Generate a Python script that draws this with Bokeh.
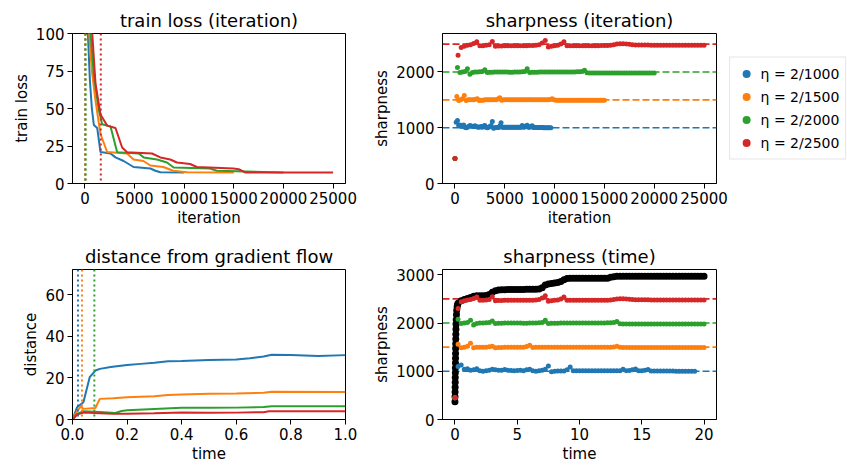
import numpy as np
from bokeh.plotting import figure
from bokeh.models import Span, Range1d, FixedTicker, Legend, LegendItem, NumeralTickFormatter
from bokeh.layouts import column, row
from bokeh.embed import file_html
from bokeh.resources import INLINE

# ---------------- data ----------------
colors = ["#1f77b4", "#ff7f0e", "#2ca02c", "#d62728"]
labels = ["η = 2/1000", "η = 2/1500", "η = 2/2000", "η = 2/2500"]
lrs = [2 / 1000, 2 / 1500, 2 / 2000, 2 / 2500]
eos_iters = [10, 26, 80, 1600]  # dotted vertical markers (iteration)

# train loss vs iteration
loss_iters = [
    [0, 300, 500, 700, 900, 1240, 1570, 2580, 3080, 3900, 4400, 4900, 6600, 7100, 7600, 10000],
    [0, 430, 700, 1070, 1570, 2240, 4250, 4900, 5900, 6600, 7900, 8900, 10300, 15000],
    [0, 570, 900, 1400, 1740, 2580, 3250, 5420, 5920, 7260, 8270, 8940, 12600, 13300, 20000],
    [0, 740, 1070, 1570, 2240, 3080, 3750, 4250, 6760, 7600, 8600, 9270, 10600, 11280, 14960, 15500, 16130, 25000],
]
loss_vals = [
    [300, 100, 69, 50, 39, 37, 21, 20, 17.4, 15, 13, 11, 10, 8.5, 7.5, 7.3],
    [300, 100, 75, 55, 33, 21, 20, 16, 15, 12, 11, 8.5, 7.5, 7.3],
    [300, 100, 72, 49, 39.5, 38, 20.8, 20, 17.4, 16, 14, 10.7, 10, 8.5, 7.3],
    [300, 100, 66.5, 46, 38.6, 37, 24, 20.8, 20, 17.4, 16, 14, 13, 11, 10, 9.5, 7.4, 7.3],
]

# distance from gradient flow vs time
dist_times = [
    [0, 0.017, 0.04, 0.063, 0.084, 0.1, 0.14, 0.2, 0.25, 0.3, 0.35, 0.4, 0.5, 0.6, 0.65, 0.7, 0.73, 0.8, 0.9, 1.0],
    [0, 0.017, 0.03, 0.04, 0.084, 0.1, 0.15, 0.2, 0.3, 0.35, 0.4, 0.5, 0.6, 0.7, 0.73, 1.0],
    [0, 0.017, 0.04, 0.1, 0.157, 0.18, 0.2, 0.3, 0.4, 0.5, 0.6, 0.7, 0.73, 1.0],
    [0, 0.017, 0.04, 0.1, 0.15, 0.2, 0.3, 0.4, 0.5, 0.6, 0.7, 0.72, 1.0],
]
dist_vals = [
    [0, 5.9, 8.3, 20.3, 23.5, 24.3, 25.2, 26.2, 26.7, 27.2, 28.0, 28.1, 28.6, 28.8, 29.4, 30.2, 31.1, 31.0, 30.5, 30.9],
    [0, 4.0, 6.2, 5.1, 5.5, 9.9, 10.2, 10.7, 11.2, 11.8, 12.0, 12.4, 12.5, 12.8, 13.3, 13.2],
    [0, 2.7, 4.0, 3.6, 3.1, 4.1, 4.4, 5.0, 5.6, 5.6, 5.7, 6.0, 6.4, 6.4],
    [0, 2.4, 3.3, 3.0, 2.7, 2.8, 3.0, 3.4, 3.2, 3.3, 3.5, 4.0, 4.0],
]

# sharpness sampled every 0.25 units of time (time = iteration * eta)
sharp_time_step = 0.25
blue_sharp = [
    450, 1100, 1130, 1040, 1050, 1020, 1030, 1050, 1010, 1000,
    1010, 1020, 1040, 1030, 1020, 1020, 1035, 1020, 1015, 1010,
    1015, 1020, 1010, 1030, 1040, 1010, 1000, 1010, 1020, 1040,
    1110, 990, 1000, 1005, 1005, 1005, 1030, 1090, 1010, 1010,
    1010, 1010, 1010, 1010, 1010, 1010, 1010, 1010, 1010, 1010,
    1010, 1010, 1010, 1010, 1040, 1010, 1015, 1030, 1045, 1010,
    1010, 1020, 1035, 1005, 1005, 1005, 1005, 1005, 1005, 1005,
    1005, 1000, 1000, 1000, 1000, 1000, 1000, 1000,
]
orange_sharp = [
    450, 1560, 1490, 1500, 1520, 1580, 1490, 1500, 1500, 1500,
    1500, 1510, 1520, 1490, 1495, 1495, 1500, 1500, 1500, 1500,
    1500, 1500, 1500, 1515, 1540, 1495, 1500, 1500, 1500, 1500,
    1500, 1500, 1500, 1500, 1500, 1500, 1500, 1500, 1500, 1500,
    1500, 1500, 1500, 1500, 1500, 1500, 1500, 1500, 1500, 1500,
    1500, 1505, 1520, 1500, 1495, 1495, 1495, 1495, 1495, 1495,
    1495, 1495, 1495, 1495, 1495, 1495, 1495, 1495, 1495, 1495,
    1495, 1495, 1495, 1495, 1495, 1495, 1495, 1495, 1495, 1495,
    1495,
]
green_sharp = [
    450, 2080, 1990, 2000, 2010, 2060, 1960, 1990, 2000, 2000,
    2005, 2010, 2040, 1990, 1995, 1995, 2000, 2000, 2000, 2000,
    2000, 2000, 1995, 1995, 2000, 2000, 2000, 2005, 2010, 2060,
    1990, 1995, 1995, 1995, 2000, 2000, 2000, 2000, 2000, 2000,
    2000, 2000, 2000, 2000, 2000, 2000, 2000, 2000, 2000, 2005,
    2005, 2010, 2030, 1985, 1980, 1980, 1980, 1980, 1980, 1980,
    1980, 1980, 1980, 1980, 1980, 1980, 1980, 1980, 1980, 1980,
    1980, 1980, 1980, 1980, 1980, 1980, 1980, 1980, 1980, 1980,
    1980,
]
red_sharp = [
    450, 2300, 2440, 2460, 2480, 2490, 2510, 2540, 2470, 2470,
    2480, 2490, 2545, 2460, 2465, 2465, 2470, 2470, 2470, 2470,
    2470, 2470, 2470, 2470, 2475, 2475, 2480, 2490, 2520, 2565,
    2450, 2460, 2470, 2480, 2500, 2540, 2470, 2470, 2470, 2470,
    2470, 2470, 2470, 2470, 2470, 2470, 2470, 2475, 2475, 2475,
    2480, 2490, 2500, 2505, 2505, 2500, 2495, 2490, 2485, 2485,
    2485, 2485, 2485, 2480, 2480, 2480, 2480, 2480, 2480, 2480,
    2480, 2480, 2480, 2480, 2480, 2480, 2480, 2480, 2480, 2480,
    2480,
]
sharp_vals = [blue_sharp, orange_sharp, green_sharp, red_sharp]

# gradient-flow sharpness (black): fine early samples + 0.25 time grid
gf_time_early = [0.005, 0.01, 0.015, 0.02, 0.025, 0.03, 0.035, 0.04, 0.045, 0.05, 0.055,
                 0.06, 0.065, 0.07, 0.08, 0.09, 0.1, 0.12, 0.14, 0.17, 0.2]
gf_sharp_early = [470, 570, 670, 770, 870, 970, 1070, 1170, 1270, 1370, 1470,
                  1570, 1670, 1770, 1870, 1970, 2070, 2170, 2260, 2330, 2380]
gf_sharp = [
    370, 2410, 2460, 2490, 2510, 2530, 2555, 2565, 2565, 2565,
    2570, 2590, 2640, 2670, 2685, 2690, 2690, 2695, 2695, 2695,
    2695, 2695, 2695, 2700, 2700, 2700, 2700, 2705, 2730, 2790,
    2810, 2820, 2830, 2840, 2860, 2900, 2925, 2930, 2930, 2930,
    2930, 2930, 2930, 2930, 2930, 2930, 2930, 2930, 2930, 2930,
    2950, 2960, 2970, 2970, 2970, 2970, 2970, 2970, 2970, 2970,
    2970, 2970, 2970, 2970, 2970, 2970, 2970, 2970, 2970, 2970,
    2970, 2970, 2970, 2970, 2970, 2970, 2970, 2970, 2970, 2970,
    2970,
]

FONT = "DejaVu Sans"


def make_fig(width, height, xr, yr, xticks, yticks, title, xlabel, ylabel, mb):
    p = figure(width=width, height=height, x_range=Range1d(*xr), y_range=Range1d(*yr),
               output_backend="svg", toolbar_location=None,
               min_border_left=mb[0], min_border_right=mb[1],
               min_border_top=mb[2], min_border_bottom=mb[3])
    p.title.text = title
    p.title.text_font = FONT
    p.title.text_font_size = "18px"
    p.title.text_font_style = "normal"
    p.title.text_color = "black"
    p.title.align = "center"
    p.title.standoff = 5
    p.grid.visible = False
    p.outline_line_color = "black"
    p.outline_line_alpha = 1
    p.background_fill_color = "white"
    p.border_fill_color = "white"
    for ax, ticks, lab in ((p.xaxis[0], xticks, xlabel), (p.yaxis[0], yticks, ylabel)):
        ax.ticker = FixedTicker(ticks=ticks)
        ax.axis_label = lab
        ax.axis_label_text_font = FONT
        ax.axis_label_text_font_size = "15px"
        ax.axis_label_text_font_style = "normal"
        ax.axis_label_text_color = "black"
        ax.axis_label_standoff = 2
        ax.major_label_text_font = FONT
        ax.major_label_text_font_size = "15px"
        ax.major_label_text_color = "black"
        ax.major_label_standoff = 3
        ax.major_tick_out = 5
        ax.major_tick_in = 0
        ax.minor_tick_out = 0
        ax.minor_tick_in = 0
        ax.axis_line_color = "black"
        ax.major_tick_line_color = "black"
    return p


sharp_limits = [2 / lr for lr in lrs]
sharp_times = [np.arange(len(v)) * sharp_time_step for v in sharp_vals]
sharp_iters = [t / lr for t, lr in zip(sharp_times, lrs)]

# ---------- panel 1: train loss (iteration) ----------
p1 = make_fig(370, 238, (-1250, 26250), (0, 100), [0, 5000, 10000, 15000, 20000, 25000],
              [0, 25, 50, 75, 100], "train loss (iteration)", "iteration", "train loss",
              (72, 25, 33, 55))
for it, lv, c in zip(loss_iters, loss_vals, colors):
    p1.line(it, lv, line_color=c, line_width=2)
for e, c in zip(eos_iters, colors):
    p1.add_layout(Span(location=e, dimension="height", line_color=c, line_width=2,
                       line_dash="2 3"))

# ---------- panel 2: sharpness (iteration) ----------
p2 = make_fig(358, 238, (-1250, 26250), (0, 2690), [0, 5000, 10000, 15000, 20000, 25000],
              [0, 1000, 2000], "sharpness (iteration)", "iteration", "sharpness",
              (72, 12, 33, 55))
for s, c in zip(sharp_limits, colors):
    p2.add_layout(Span(location=s, dimension="width", line_color=c, line_width=1.6,
                       line_dash="7 3", level="underlay"))
for it, sv, c in zip(sharp_iters, sharp_vals, colors):
    p2.scatter(it, sv, size=5, fill_color=c, line_color=c, line_width=0)

# ---------- legend (own small canvas beside panel 2) ----------
pleg = figure(width=119, height=238, output_backend="svg", toolbar_location=None,
              x_axis_type=None, y_axis_type=None, title=None,
              x_range=Range1d(0, 1), y_range=Range1d(0, 1),
              min_border_left=0, min_border_right=0, min_border_top=0, min_border_bottom=23)
pleg.outline_line_color = None
pleg.grid.visible = False
pleg.border_fill_color = "white"
# legend proxies: carry no visible point (NaN position), only the legend swatch
leg_rends = [pleg.scatter(x=np.array([np.nan]), y=np.array([np.nan]), size=8,
                          fill_color=c, line_color=c, line_width=0)
             for c in colors]
legend = Legend(items=[LegendItem(label=l, renderers=[r]) for l, r in zip(labels, leg_rends)],
                location="center")
legend.label_text_font = FONT
legend.label_text_font_size = "14px"
legend.label_text_color = "black"
legend.glyph_width = 20
legend.glyph_height = 20
legend.label_height = 20
legend.spacing = 3
legend.padding = 6
legend.margin = 0
legend.label_standoff = 5
legend.border_line_color = "#cccccc"
legend.border_line_width = 1
legend.background_fill_alpha = 1
pleg.add_layout(legend)

# ---------- panel 3: distance from gradient flow ----------
p3 = make_fig(370, 228, (0, 1.0), (0, 72), [0, 0.2, 0.4, 0.6, 0.8, 1.0], [0, 20, 40, 60],
              "distance from gradient flow", "time", "distance", (72, 25, 31, 47))
p3.xaxis[0].formatter = NumeralTickFormatter(format="0.0")
for tt, dv, c in zip(dist_times, dist_vals, colors):
    p3.line(tt, dv, line_color=c, line_width=2)
for e, lr, c in zip(eos_iters, lrs, colors):
    t_e = e * lr
    if t_e <= 1.0:
        p3.add_layout(Span(location=t_e, dimension="height", line_color=c, line_width=2,
                           line_dash="2 3"))

# ---------- panel 4: sharpness (time) ----------
p4 = make_fig(477, 228, (-1, 21), (0, 3110), [0, 5, 10, 15, 20], [0, 1000, 2000, 3000],
              "sharpness (time)", "time", "sharpness", (72, 131, 31, 47))
for s, c in zip(sharp_limits, colors):
    p4.add_layout(Span(location=s, dimension="width", line_color=c, line_width=1.6,
                       line_dash="7 3", level="underlay"))
gf_time = list(gf_time_early) + list(np.arange(len(gf_sharp)) * sharp_time_step)
gf_vals = list(gf_sharp_early) + list(gf_sharp)
p4.scatter(gf_time, gf_vals, size=7, fill_color="black", line_color="black", line_width=0)
for tt, sv, c in zip(sharp_times, sharp_vals, colors):
    p4.scatter(tt, sv, size=5, fill_color=c, line_color=c, line_width=0)

layout = column(row(p1, p2, pleg, spacing=0), row(p3, p4, spacing=0), spacing=0)

open("out.html", "w").write(file_html(layout, INLINE))
